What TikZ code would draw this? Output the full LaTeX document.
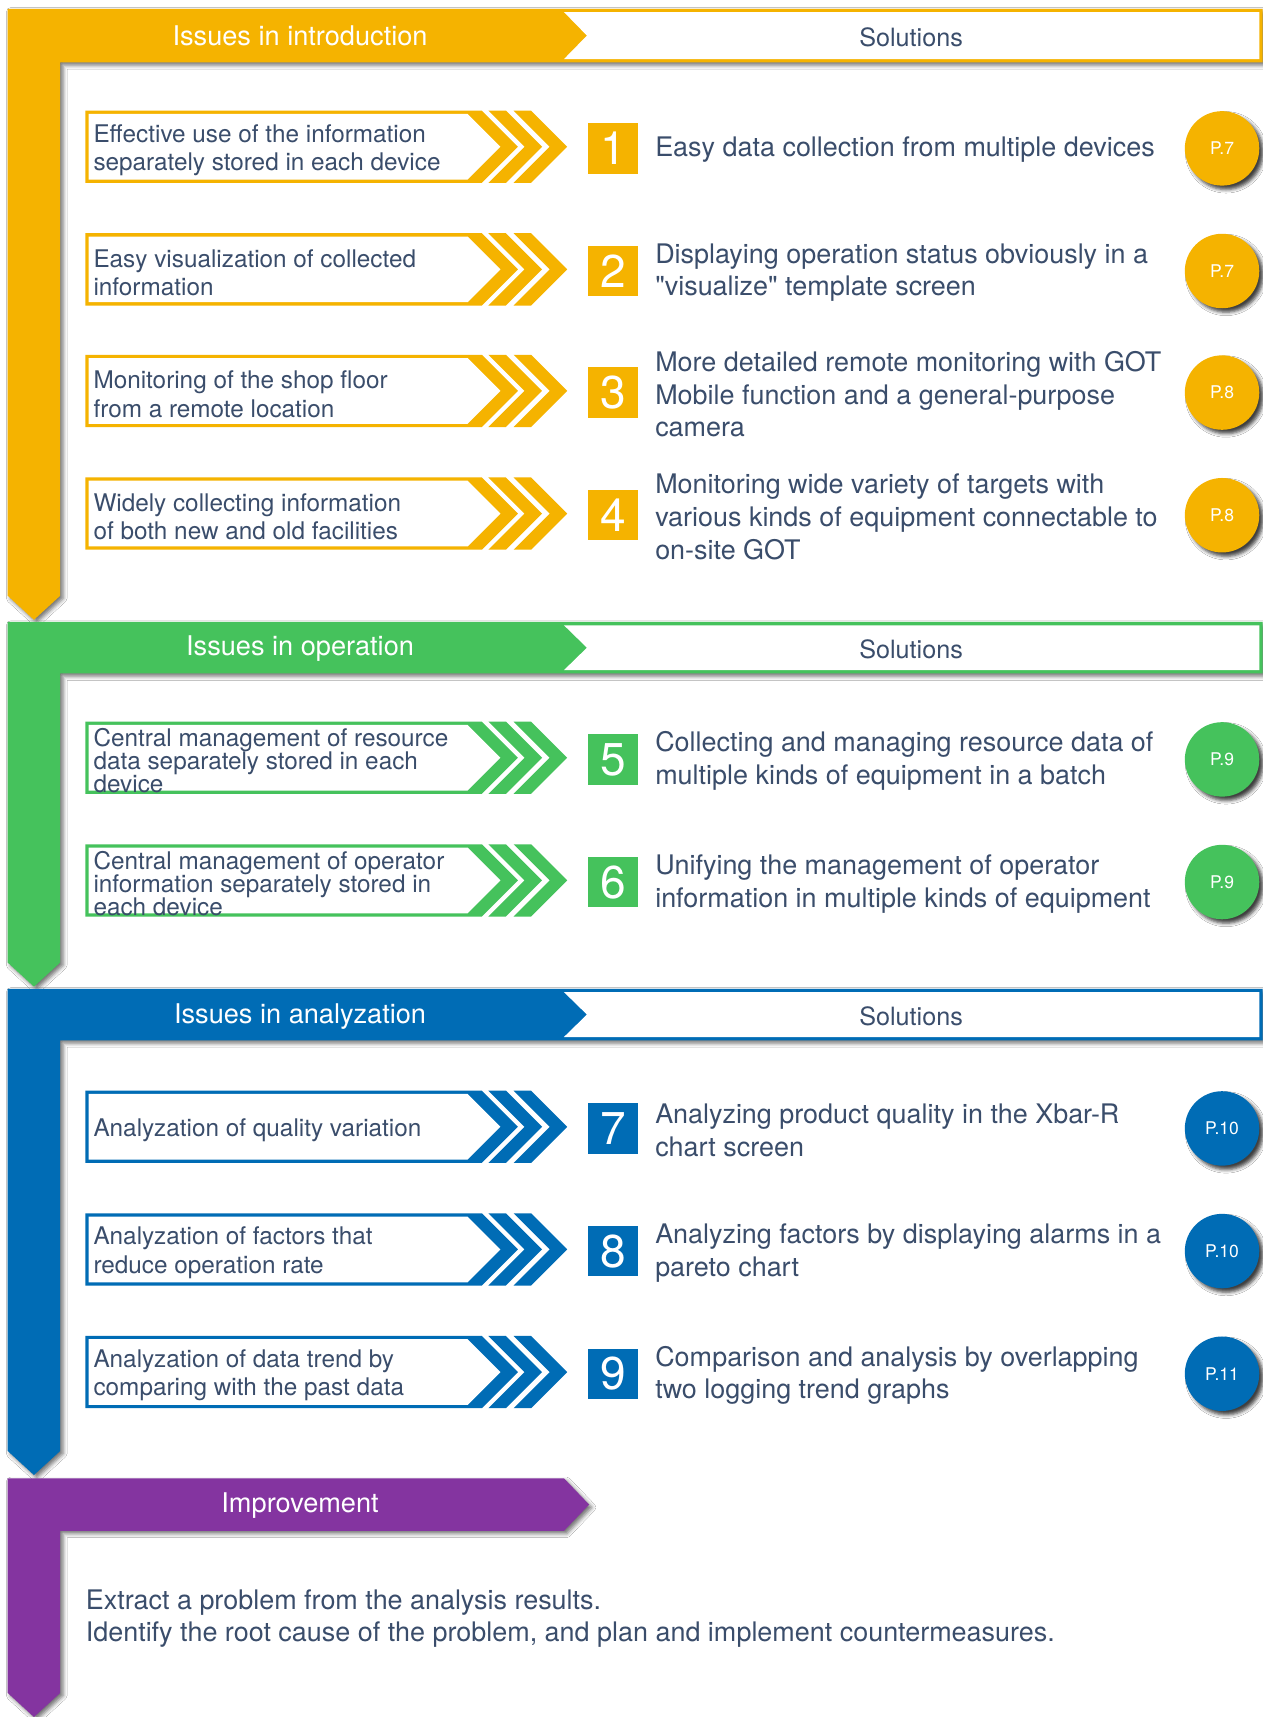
\documentclass[tikz,border=0pt]{standalone}
\usepackage{fontspec}
\setmainfont{TeX Gyre Heros}[Ligatures=TeXOff]
\usetikzlibrary{shadows.blur}
\definecolor{cy}{HTML}{F5B300}
\definecolor{cg}{HTML}{45C25C}
\definecolor{cb}{HTML}{006CB5}
\definecolor{cp}{HTML}{8434A0}
\definecolor{txt}{HTML}{3A4D6B}
\newcommand\tightfont{\fontsize{11.1}{10.5}\selectfont\lineskiplimit=-6pt\relax\lineskip=0pt\relax}
\tikzset{
  lshadow/.style={blur shadow={shadow xshift=1.3pt, shadow yshift=-1.3pt, shadow blur radius=1.8pt, shadow opacity=55}},
  headw/.style={text=white, font=\fontsize{12.4}{14}\selectfont, inner sep=0pt},
  headd/.style={text=txt, font=\fontsize{11.5}{14}\selectfont, inner sep=0pt},
  issue/.style={anchor=west, align=left, text=txt, inner sep=0pt, font=\fontsize{11.1}{13}\selectfont},
  sol/.style={anchor=west, align=left, text=txt, inner sep=0pt, font=\fontsize{12.3}{15}\selectfont},
  numsq/.style={minimum size=23pt, inner sep=0pt, text=white, font=\fontsize{21}{22}\selectfont},
  pc/.style={circle, minimum size=34pt, inner sep=0pt, text=white, font=\fontsize{8}{9}\selectfont,
    blur shadow={shadow xshift=1.8pt, shadow yshift=-1.8pt, shadow blur radius=1.6pt, shadow opacity=75}},
  imp/.style={anchor=west, align=left, text=txt, inner sep=0pt, font=\fontsize{12.3}{14.75}\selectfont}
}
% #1 colour, #2 top, #3 bottom, #4 bottom of the vertical bar
\newcommand\LBand[4]{%
  \fill[#1, lshadow] (7,#2) -- (1153,#2) -- (1153,#3) -- (55,#3) -- (55,#4) -- (31,#4+22) -- (7,#4) -- cycle;
  \fill[white] (515,#2+3) -- (1150,#2+3) -- (1150,#3-3) -- (515,#3-3) -- (536,{(#2+#3)/2}) -- cycle;
}
% #1 colour, #2 centre y, #3 name, #4 issue, #5 number, #6 solution, #7 page
\newcommand\IssueRow[7]{%
  \fill[#1] (78,#2-33) -- (440,#2-33) -- (473,#2) -- (440,#2+33) -- (78,#2+33) -- cycle;
  \fill[white] (81,#2-30) -- (427,#2-30) -- (457,#2) -- (427,#2+30) -- (81,#2+30) -- cycle;
  \fill[#1] (446,#2-33) -- (462,#2-33) -- (495,#2) -- (462,#2+33) -- (446,#2+33) -- (479,#2) -- cycle;
  \fill[#1] (469,#2-33) -- (485,#2-33) -- (518,#2) -- (485,#2+33) -- (469,#2+33) -- (502,#2) -- cycle;
  \node[issue] (#3i) at (85,#2+3) {#4};
  \node[numsq, fill=#1] (#3n) at (560,#2+1.5) {#5};
  \node[sol] (#3s) at (598,#2+3) {#6};
  \node[pc, fill=#1] (#3p) at (1116,#2+1.5) {#7};
}
\begin{document}
\begin{tikzpicture}[x=0.5pt, y=-0.5pt]
\useasboundingbox (0,0) rectangle (1153,1568);
\fill[white] (0,0) rectangle (1153,1568);

% ---------- Section 1: introduction ----------
\LBand{cy}{8}{57}{544}
\node[headw] (h1) at (274,33) {Issues in introduction};
\node[headd] (s1) at (832,34) {Solutions};
\IssueRow{cy}{134}{r1}{Effective use of the information\\separately stored in each device}{1}{Easy data collection from multiple devices}{P.7}
\IssueRow{cy}{246}{r2}{Easy visualization of collected\\information}{2}{Displaying operation status obviously in a\\"visualize" template screen}{P.7}
\IssueRow{cy}{357}{r3}{Monitoring of the shop floor\\from a remote location}{3}{More detailed remote monitoring with GOT\\Mobile function and a general-purpose\\camera}{P.8}
\IssueRow{cy}{469}{r4}{Widely collecting information\\of both new and old facilities}{4}{Monitoring wide variety of targets with\\various kinds of equipment connectable to\\on-site GOT}{P.8}

% ---------- Section 2: operation ----------
\LBand{cg}{568}{615}{879}
\node[headw] (h2) at (274,592) {Issues in operation};
\node[headd] (s2) at (832,593) {Solutions};
\begin{scope}[issue/.append style={font=\tightfont}]
\IssueRow{cg}{692}{r5}{Central management of resource\\data separately stored in each\\device}{5}{Collecting and managing resource data of\\multiple kinds of equipment in a batch}{P.9}
\IssueRow{cg}{804}{r6}{Central management of operator\\information separately stored in\\each device}{6}{Unifying the management of operator\\information in multiple kinds of equipment}{P.9}
\end{scope}

% ---------- Section 3: analyzation ----------
\LBand{cb}{903}{950}{1325}
\node[headw] (h3) at (274,928) {Issues in analyzation};
\node[headd] (s3) at (832,928) {Solutions};
\IssueRow{cb}{1029}{r7}{Analyzation of quality variation}{7}{Analyzing product quality in the Xbar-R\\chart screen}{P.10}
\IssueRow{cb}{1141}{r8}{Analyzation of factors that\\reduce operation rate}{8}{Analyzing factors by displaying alarms in a\\pareto chart}{P.10}
\IssueRow{cb}{1253}{r9}{Analyzation of data trend by\\comparing with the past data}{9}{Comparison and analysis by overlapping\\two logging trend graphs}{P.11}

% ---------- Section 4: improvement ----------
\fill[cp, lshadow] (7,1350) -- (515,1350) -- (538,1374) -- (515,1398) -- (55,1398) -- (55,1546) -- (31,1568) -- (7,1546) -- cycle;
\node[headw] (h4) at (274,1375) {Improvement};
\node[imp] (imptext) at (78,1478) {Extract a problem from the analysis results.\\Identify the root cause of the problem, and plan and implement countermeasures.};
\end{tikzpicture}
\end{document}
